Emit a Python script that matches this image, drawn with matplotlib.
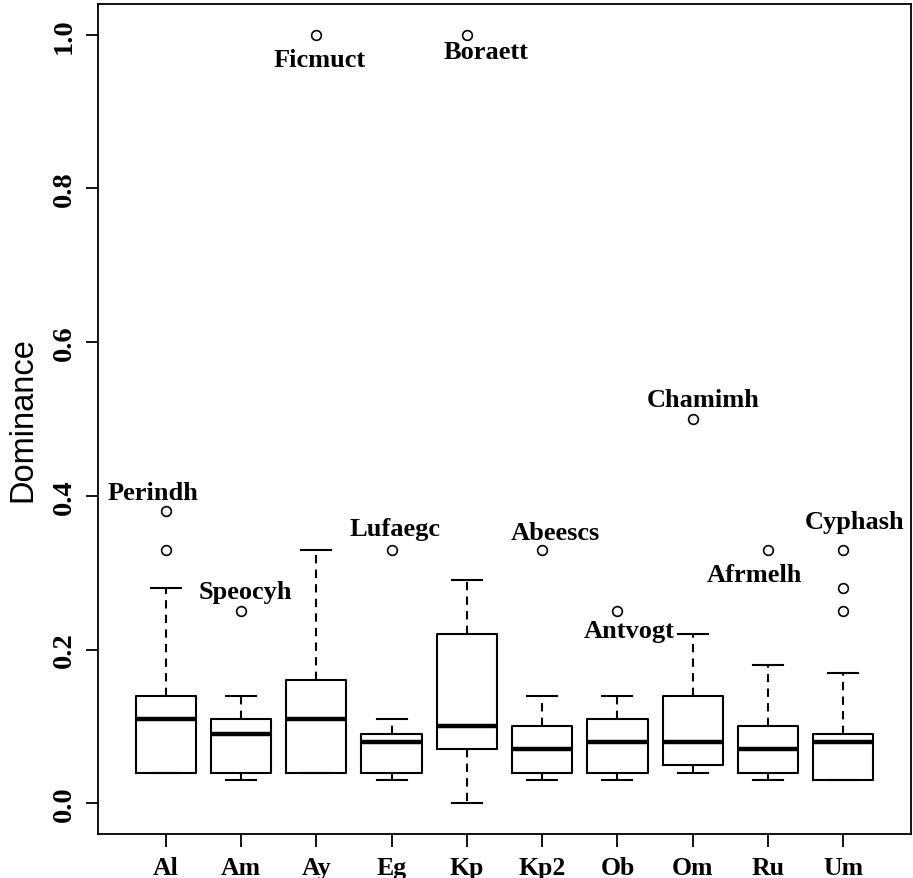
import matplotlib
matplotlib.use('Agg')
import matplotlib.pyplot as plt

# site names and box statistics
sites = ['Al', 'Am', 'Ay', 'Eg', 'Kp', 'Kp2', 'Ob', 'Om', 'Ru', 'Um']
q1 = [0.04, 0.04, 0.04, 0.04, 0.07, 0.04, 0.04, 0.05, 0.04, 0.03]
med = [0.11, 0.09, 0.11, 0.08, 0.10, 0.07, 0.08, 0.08, 0.07, 0.08]
q3 = [0.14, 0.11, 0.16, 0.09, 0.22, 0.10, 0.11, 0.14, 0.10, 0.09]
whis_lo = [0.04, 0.03, 0.04, 0.03, 0.00, 0.03, 0.03, 0.04, 0.03, 0.03]
whis_hi = [0.28, 0.14, 0.33, 0.11, 0.29, 0.14, 0.14, 0.22, 0.18, 0.17]
outliers = [[0.38, 0.33], [0.25], [1.0], [0.33], [1.0], [0.33], [0.25],
            [0.50], [0.33], [0.33, 0.28, 0.25]]

# species labels written next to the outliers
species = ['Perindh', 'Speocyh', 'Ficmuct', 'Lufaegc', 'Boraett',
           'Abeescs', 'Antvogt', 'Chamimh', 'Afrmelh', 'Cyphash']
label_x = [0.83, 2.06, 3.05, 4.04, 5.25, 6.17, 7.16, 8.14, 8.82, 10.15]
label_y = [0.405, 0.275, 0.968, 0.357, 0.978, 0.352, 0.225, 0.526, 0.298, 0.366]

stats = []
for i in range(len(sites)):
    stats.append({'label': sites[i], 'q1': q1[i], 'med': med[i], 'q3': q3[i],
                  'whislo': whis_lo[i], 'whishi': whis_hi[i],
                  'fliers': outliers[i]})

fig = plt.figure(figsize=(9.13, 8.79), dpi=100)
ax = fig.add_axes([98/913, 44/879, (911-98)/913, (835-5)/879])

ax.bxp(stats, positions=range(1, 11), widths=0.8, patch_artist=False,
       boxprops=dict(color='black', linewidth=1.5),
       medianprops=dict(color='black', linewidth=3.2, solid_capstyle='butt'),
       whiskerprops=dict(color='black', linewidth=1.5, linestyle=(0, (4, 3))),
       capprops=dict(color='black', linewidth=1.5),
       flierprops=dict(marker='o', markerfacecolor='white',
                       markeredgecolor='black', markersize=7,
                       markeredgewidth=1.2),
       capwidths=0.4)

for name, x, y in zip(species, label_x, label_y):
    ax.text(x, y, name, ha='center', va='center', fontsize=19,
            fontweight='bold', family='Liberation Serif')

ax.set_xlim(0.1, 10.9)
ax.set_ylim(-0.04, 1.04)
ax.set_yticks([0.0, 0.2, 0.4, 0.6, 0.8, 1.0])
ax.set_yticklabels(['0.0', '0.2', '0.4', '0.6', '0.8', '1.0'], rotation=90,
                   va='center', fontsize=20.5, fontweight='bold',
                   family='Liberation Serif')
ax.set_xticks(range(1, 11))
ax.set_xticklabels(sites, fontsize=18.5, fontweight='bold',
                   family='Liberation Serif')
ax.tick_params(axis='both', direction='out', length=9, width=1.3)
ax.tick_params(axis='x', pad=7)
ax.tick_params(axis='y', pad=6)
for s in ax.spines.values():
    s.set_linewidth(1.3)
ax.set_ylabel('Dominance', fontsize=23.5, family='Liberation Sans', labelpad=10)

fig.savefig('out.png', dpi=100)
